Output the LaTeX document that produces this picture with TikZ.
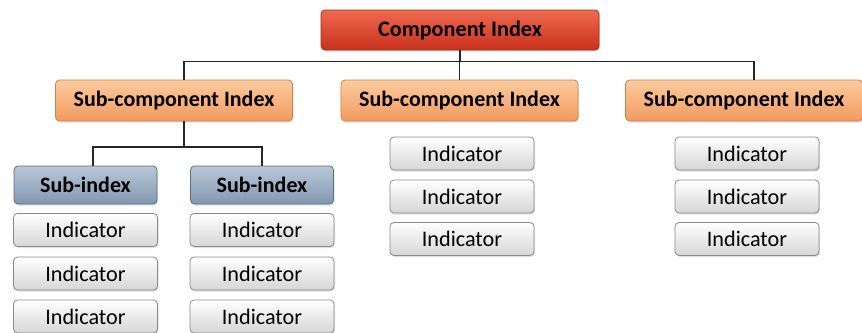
\documentclass[tikz,border=0pt]{standalone}
\usepackage{fontspec}
\setmainfont{Carlito}
\usetikzlibrary{shadows,calc}
\definecolor{redtop}{HTML}{EE6A4E}
\definecolor{redbot}{HTML}{C9301C}
\definecolor{redline}{HTML}{A0301E}
\definecolor{ortop}{HTML}{FCCB9E}
\definecolor{orbot}{HTML}{F29A60}
\definecolor{orline}{HTML}{C8844E}
\definecolor{bltop}{HTML}{B9C8D8}
\definecolor{blbot}{HTML}{8298B0}
\definecolor{blline}{HTML}{5E6E80}
\definecolor{intop}{HTML}{FFFFFF}
\definecolor{inbot}{HTML}{D6D6D6}
\definecolor{inline}{HTML}{8A8A8A}
\tikzset{
  basebox/.style={rounded corners=4pt, draw, line width=0.8pt, inner sep=0pt,
    drop shadow={opacity=0.25, shadow xshift=1pt, shadow yshift=-1.5pt},
    font=\fontsize{22.2}{24}\selectfont},
  compbox/.style={basebox, draw=redline, top color=redtop, bottom color=redbot,
    minimum width=278pt, minimum height=40pt, font=\fontsize{22.2}{24}\selectfont\bfseries},
  subcbox/.style={basebox, draw=orline, top color=ortop, bottom color=orbot,
    minimum width=237pt, minimum height=41pt, font=\fontsize{22}{24}\selectfont\bfseries},
  subibox/.style={basebox, draw=blline, top color=bltop, bottom color=blbot,
    minimum width=143pt, minimum height=38pt, font=\fontsize{22}{24}\selectfont\bfseries},
  indbox/.style={basebox, draw=inline, top color=intop, bottom color=inbot,
    minimum width=144pt, minimum height=33pt},
  conn/.style={draw=black!85, line width=1.1pt}
}
\begin{document}
\begin{tikzpicture}[x=1pt,y=-1pt]
\useasboundingbox[fill=white] (0,0) rectangle (862,332);
\node[compbox] (comp) at (460,30) {Component Index};
\node[subcbox] (s1) at (174,100.5) {Sub-component Index};
\node[subcbox] (s2) at (459.5,100.5) {Sub-component Index};
\node[subcbox] (s3) at (744,100.5) {Sub-component Index};
\node[subibox] (si1) at (85.5,185) {Sub-index};
\node[subibox] (si2) at (262,185) {Sub-index};
\node[indbox] (a1) at (85.5,230) {Indicator};
\node[indbox] (a2) at (85.5,273.5) {Indicator};
\node[indbox] (a3) at (85.5,316.5) {Indicator};
\node[indbox] (b1) at (262,230) {Indicator};
\node[indbox] (b2) at (262,273.5) {Indicator};
\node[indbox] (b3) at (262,316.5) {Indicator};
\node[indbox] (c1) at (462,153.5) {Indicator};
\node[indbox] (c2) at (462,196.5) {Indicator};
\node[indbox] (c3) at (462,239) {Indicator};
\node[indbox] (d1) at (747,153.5) {Indicator};
\node[indbox] (d2) at (747,196.5) {Indicator};
\node[indbox] (d3) at (747,239) {Indicator};
\coordinate (hb) at (0,61.5);
\coordinate (lb) at (0,147);
\draw[conn] (comp.south) -- (comp.south |- hb);
\draw[conn] ([xshift=10pt]s1.north) |- ([xshift=10pt]s3.north |- hb) -- ([xshift=10pt]s3.north);
\draw[conn] (s2.north |- hb) -- (s2.north);
\draw[conn] ([xshift=10pt]s1.south) -- ([xshift=10pt]s1.south |- lb);
\draw[conn] ([xshift=7.5pt]si1.north) |- (si2.north |- lb) -- (si2.north);
\end{tikzpicture}
\end{document}
